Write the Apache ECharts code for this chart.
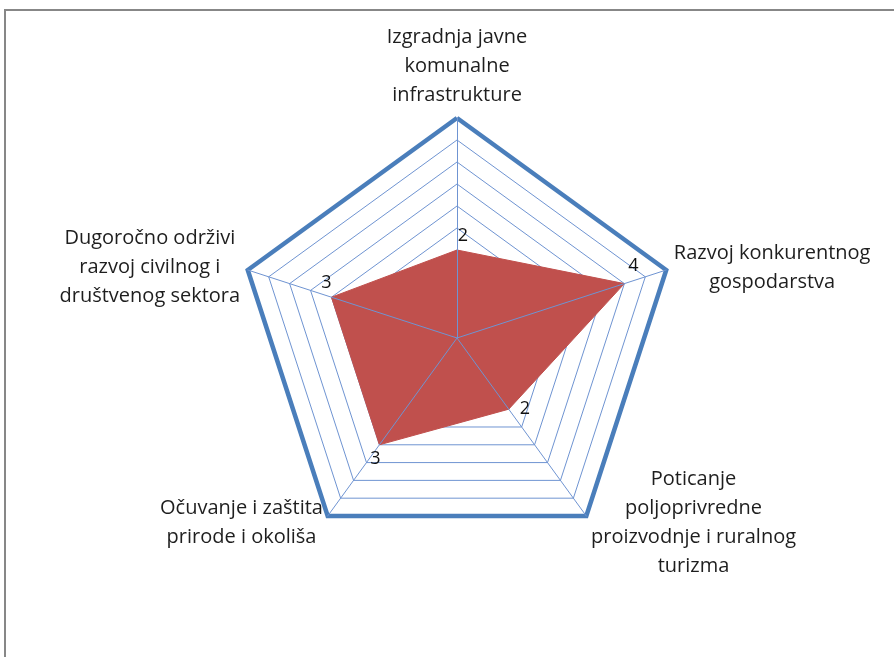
<!DOCTYPE html>
<html><head><meta charset="utf-8">
<script src="https://cdn.jsdelivr.net/npm/echarts@6/dist/echarts.min.js"></script>
<style>
html,body{margin:0;padding:0;background:#fff;overflow:hidden}
#chart{position:absolute;left:0;top:0;width:894px;height:657px}
#frame{position:absolute;left:4px;top:9px;width:1000px;height:1000px;border-left:2px solid #878787;border-top:2px solid #878787;pointer-events:none}
</style></head>
<body>
<div id="chart"></div>
<div id="frame"></div>
<script>
// clockwise order, starting at top
const categories = [
  "Izgradnja javne\nkomunalne\ninfrastrukture",
  "Razvoj konkurentnog\ngospodarstva",
  "Poticanje\npoljoprivredne\nproizvodnje i ruralnog\nturizma",
  "Očuvanje i zaštita\nprirode i okoliša",
  "Dugoročno održivi\nrazvoj civilnog i\ndruštvenog sektora"
];
const values = [2, 4, 2, 3, 3];
const axisMax = 5;
const ringCount = 10;

// ECharts places indicators counter-clockwise: reorder
const order = [0, 4, 3, 2, 1];
const indicators = order.map(i => ({ name: categories[i], max: axisMax, min: 0 }));
const vals = order.map(i => values[i]);

const FONT = "'Open Sans', 'Noto Sans', sans-serif";
const center = [457, 338];
const radius = 220;

const labelPlacement = [
  { position: 'top', offset: [6, 0] },     // top
  { position: 'top', offset: [9, -4] },    // right
  { position: 'right', offset: [6, 0] },   // bottom-right
  { position: 'bottom', offset: [-4, 0] }, // bottom-left
  { position: 'top', offset: [-5, 0] }     // left
];

const labelSeries = values.map((v, k) => {
  const arr = order.map(i => (i === k ? values[i] : 0));
  return {
    type: 'radar', radarIndex: 0, silent: true, z: 5,
    symbol: 'circle', symbolSize: 0.1,
    itemStyle: { color: 'rgba(0,0,0,0)' },
    lineStyle: { width: 0, opacity: 0 },
    label: {
      show: true, position: labelPlacement[k].position, offset: labelPlacement[k].offset,
      color: '#111', fontFamily: FONT, fontSize: 18,
      formatter: p => { const x = Array.isArray(p.value) ? null : p.value; return x > 0 ? String(x) : ''; }
    },
    data: [{ value: arr }]
  };
});

const chart = echarts.init(document.getElementById('chart'), null, { renderer: 'canvas' });
const option = {
  backgroundColor: '#fff',
  animation: false,
  radar: [
    {
      center, radius, startAngle: 90, shape: 'polygon', splitNumber: ringCount,
      indicator: indicators,
      axisName: {
        color: '#1e1e1e', fontFamily: FONT, fontSize: 20, lineHeight: 29,
        formatter: n => n.split('\n').map(s => '{c|' + s + '}').join('\n'),
        rich: { c: { align: 'center', color: '#1e1e1e', fontFamily: FONT, fontSize: 20, lineHeight: 29 } }
      },
      nameGap: 8,
      splitArea: { show: false },
      splitLine: { lineStyle: { color: '#6F94D2', width: 1 } },
      axisLine: { show: false },
      axisTick: { show: false },
      axisLabel: { show: false },
      z: 1
    },
    {
      center, radius, startAngle: 90, shape: 'polygon', splitNumber: 1,
      indicator: indicators.map(d => ({ name: '', max: d.max, min: d.min })),
      axisName: { show: false },
      splitArea: { show: false },
      splitLine: { lineStyle: { color: '#4A7EBB', width: 4.5 } },
      axisLine: { show: true, lineStyle: { color: '#6F94D2', width: 1 } },
      axisTick: { show: false },
      axisLabel: { show: false },
      z: 4
    }
  ],
  series: [
    {
      type: 'radar', radarIndex: 0, z: 3, silent: true,
      symbol: 'none',
      lineStyle: { color: '#C0504D', width: 1 },
      areaStyle: { color: '#C0504D', opacity: 1 },
      data: [{ value: vals }]
    }
  ].concat(labelSeries)
};
chart.setOption(option);
</script>
</body></html>
